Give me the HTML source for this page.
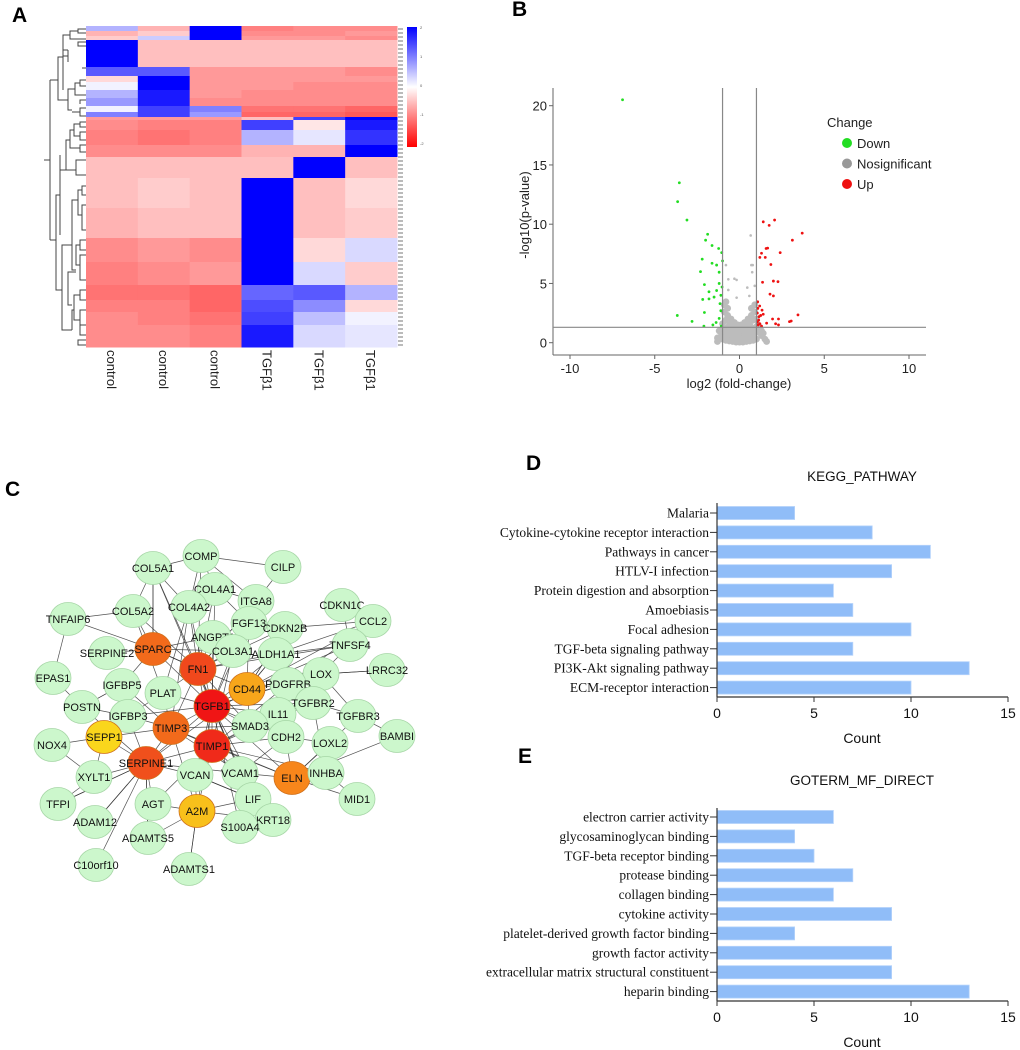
<!DOCTYPE html>
<html><head><meta charset="utf-8">
<style>
body{margin:0;background:#fff;}
svg{display:block;font-family:"Liberation Sans",Arial,sans-serif;}
.lab{font-weight:bold;font-size:21px;}
.ser{font-family:"Liberation Serif",serif;font-size:13.5px;}
</style></head>
<body>
<svg id="fig" width="1020" height="1050" viewBox="0 0 1020 1050">
<text class="lab" x="12" y="22">A</text>
<text class="lab" x="512" y="16">B</text>
<text class="lab" x="5" y="496">C</text>
<text class="lab" x="526" y="470">D</text>
<text class="lab" x="518" y="763">E</text>
<g id="heat"></g>
<g id="dendro" fill="none" stroke="#444" stroke-width="1"></g>
<g id="volc"></g>
<g id="net"></g>
<g id="kegg"></g>
<g id="go"></g>
</svg>
<script>
// ---------- Heatmap data ----------
const hmColumns = ["control","control","control","TGFβ1","TGFβ1","TGFβ1"];
const hmBlockSizes = [5,5,4,27,9,6,8,8,8,6,5,3,10,15,12,21,30,30,24,23,15,12,13,22];
const hmC1 = [0.6,-0.6,-0.4,2,1.3,-0.3,0.1,0.6,0.8,0.1,1,-0.8,-0.9,-1,-0.9,-0.5,-0.5,-0.6,-0.9,-1,-1.1,-1,-0.9,-0.9];
const hmC2 = [-0.6,-0.4,0.4,-0.5,1.3,2,2,1.8,1.8,1.5,1.5,-0.8,-1,-1.1,-0.9,-0.5,-0.4,-0.5,-0.8,-0.9,-1.1,-1,-1,-0.9];
const hmC3 = [2,2,2,-0.5,-0.8,-0.8,-0.8,-0.8,-0.9,1,0.8,-0.8,-1,-1,-0.9,-0.5,-0.5,-0.5,-0.9,-0.8,-1.2,-1.2,-1.1,-1];
const hmC4 = [-1,-0.9,-0.8,-0.5,-0.8,-0.8,-0.8,-0.9,-0.9,-1.1,-1.2,-0.5,1.5,0.6,-0.6,-0.5,2,2,2,2,1.2,1.4,1.5,1.8];
const hmC5 = [-0.9,-0.9,-0.8,-0.5,-0.8,-0.8,-0.9,-0.9,-0.9,-1.1,-1.2,1.5,-0.2,0.2,-0.6,2,-0.5,-0.5,-0.3,0.3,1.3,0.9,0.5,0.3];
const hmC6 = [-0.9,-0.8,-0.9,-0.5,-0.9,-0.8,-0.9,-0.9,-0.9,-1.2,-1.3,2,1.8,1.6,2,-0.5,-0.3,-0.4,0.3,-0.4,0.6,-0.3,0.1,0.2];
const hmCbTicks = ["2","1","0","-1","-2"];

// ---------- Volcano data ----------
const downX=[-6.9,-3.55,-3.65,-3.1,-1.88,-2.0,-1.62,-1.23,-1.05,-2.2,-1.62,-1.35,-1.0,-2.3,-1.2,-2.07,-1.2,-1.03,-1.8,-1.35,-1.1,-1.5,-2.17,-1.8,-1.15,-2.07,-3.67,-2.8,-2.1,-1.57,-1.38,-1.2,-1.07,-1.1];
const downY=[20.5,13.5,11.9,10.35,9.15,8.65,8.2,7.95,7.6,7.05,6.7,6.55,6.9,6.0,5.95,4.9,5.0,4.7,4.3,4.4,4.0,3.85,3.65,3.7,3.3,2.55,2.3,1.8,1.4,1.5,1.7,2.05,1.4,2.7];
const upX=[1.4,2.07,1.75,3.7,3.12,1.57,1.66,2.4,1.3,1.2,1.52,1.85,1.36,2.0,2.27,1.8,2.0,1.07,1.19,1.33,3.45,1.25,1.13,1.1,1.6,1.95,2.3,2.95,3.05,2.13,2.3,1.4,1.05,1.05,1.15,1.2,1.3,1.08];
const upY=[10.2,10.35,9.9,9.25,8.65,7.95,7.98,7.6,7.55,7.2,7.2,6.6,5.1,5.2,5.15,4.1,3.95,3.45,3.1,2.75,2.35,2.3,1.9,1.5,1.65,2.0,2.0,1.78,1.83,1.6,1.5,2.4,2.5,1.75,2.2,1.6,1.4,2.9];
const nsX=[0.66,0.78,0.7,-0.8,-0.66,-0.3,-0.17,0.75,0.9,0.46,-0.17,0.58,-0.66,-0.8,-0.9,-0.7,-0.5,-0.3,-0.1,0.1,0.3,0.5,0.7,0.9,-1.2,-1.0,-0.8,-0.6,-0.4,-0.2,0,0.2,0.4,0.6,0.8,1.0,1.2,1.4,-1.3,-1.1,-0.9,-0.7,-0.5,-0.3,-0.1,0.1,0.3,0.5,0.7,0.9,1.1,1.3,1.5,-1.0,-0.8,-0.6,-0.4,-0.2,0,0.2,0.4,0.6,0.8,1.0,-0.9,-0.7,0.7,0.9,-0.95,0.95,-0.85,0.85,0.6,-0.6,1.1,1.3,-1.1,-1.3,1.6,-0.2,0.2,0,-0.4,0.4];
const nsY=[9.05,6.55,6.55,6.55,5.35,5.4,5.3,5.95,4.8,4.65,3.8,3.95,4.45,3.45,2.6,2.3,2.0,1.7,1.5,1.5,1.7,2.0,2.3,2.6,1.0,1.6,1.9,1.5,1.2,1.0,0.9,1.0,1.2,1.5,1.9,2.0,1.3,0.8,0.4,0.9,1.1,1.0,0.8,0.6,0.5,0.5,0.6,0.8,1.0,1.1,0.9,0.6,0.3,0.3,0.2,0.15,0.1,0.05,0.05,0.05,0.1,0.15,0.2,0.3,3.2,2.9,2.9,3.2,1.3,1.3,0.6,0.6,0.4,0.4,1.5,1.0,0.5,0.1,0.1,0.3,0.3,1.2,0.35,0.35];
const vXTicks=[-10,-5,0,5,10];
const vYTicks=[0,5,10,15,20];
const vLegend=["Down","Nosignificant","Up"];

// ---------- Bar chart data ----------
const keggCats=["Malaria","Cytokine-cytokine receptor interaction","Pathways in cancer","HTLV-I infection","Protein digestion and absorption","Amoebiasis","Focal adhesion","TGF-beta signaling pathway","PI3K-Akt signaling pathway","ECM-receptor interaction"];
const keggVals=[4,8,11,9,6,7,10,7,13,10];
const goCats=["electron carrier activity","glycosaminoglycan binding","TGF-beta receptor binding","protease binding","collagen binding","cytokine activity","platelet-derived growth factor binding","growth factor activity","extracellular matrix structural constituent","heparin binding"];
const goVals=[6,4,5,7,6,9,4,9,9,13];
const countTicks=[0,5,10,15];

// ---------- Network data ----------
const nodeNames=["COMP","CILP","COL5A1","COL4A1","ITGA8","COL5A2","COL4A2","CDKN1C","CCL2","TNFAIP6","FGF13","CDKN2B","ANGPT1","SPARC","SERPINE2","COL3A1","ALDH1A1","TNFSF4","FN1","LOX","LRRC32","EPAS1","IGFBP5","PLAT","CD44","PDGFRB","TGFB1","POSTN","TGFBR2","IL11","TGFBR3","IGFBP3","TIMP3","SMAD3","BAMBI","SEPP1","CDH2","NOX4","TIMP1","LOXL2","SERPINE1","VCAN","VCAM1","ELN","INHBA","XYLT1","TFPI","AGT","A2M","LIF","MID1","ADAM12","KRT18","S100A4","ADAMTS5","C10orf10","ADAMTS1"];
const nodeX=[201,283,153,215,256,133,189,342,373,68,249,285,213,153,107,233,276,350,198,321,387,53,122,163,247,288,212,82,313,278,358,128,171,250,397,104,286,52,212,330,146,195,240,292,326,94,58,153,197,253,357,95,273,240,148,96,189];
const nodeY=[556,567,568,589,601,611,607,605,621,619,623,628,637,649,653,651,654,645,669,674,670,678,685,693,689,684,706,707,703,714,716,716,728,726,736,737,737,745,746,743,763,775,773,778,773,777,804,804,811,799,799,822,820,827,838,865,869];
const nodeDegree=[3,3,3,3,3,3,3,3,3,3,3,3,3,8,3,3,3,3,9,3,3,3,3,3,7,3,10,3,3,3,3,3,8,3,3,5,3,3,9.5,3,8.5,3,3,7.5,3,3,3,3,6,3,3,3,3,3,3,3,3];
const edgeFrom=["TGFB1","TGFB1","TGFB1","TGFB1","TGFB1","TGFB1","TGFB1","TGFB1","TGFB1","TGFB1","TGFB1","TGFB1","TGFB1","TGFB1","TGFB1","TGFB1","TGFB1","TGFB1","TGFB1","TGFB1","TIMP1","TIMP1","TIMP1","TIMP1","TIMP1","TIMP1","TIMP1","TIMP1","TIMP1","TIMP1","TIMP1","FN1","FN1","FN1","FN1","FN1","FN1","FN1","FN1","FN1","FN1","FN1","SERPINE1","SERPINE1","SERPINE1","SERPINE1","SERPINE1","SERPINE1","SERPINE1","SERPINE1","SERPINE1","TIMP3","TIMP3","TIMP3","TIMP3","TIMP3","TIMP3","SPARC","SPARC","SPARC","SPARC","SPARC","SPARC","CD44","CD44","CD44","CD44","CD44","ELN","ELN","ELN","ELN","ELN","A2M","A2M","A2M","A2M","SEPP1","SEPP1","SEPP1","COMP","COMP","COL5A1","COL5A1","COL4A1","CILP","CDKN1C","CCL2","CCL2","TNFSF4","LRRC32","TGFBR3","TGFBR3","EPAS1","EPAS1","TNFAIP6","POSTN","NOX4","TFPI","TFPI","ADAM12","C10orf10","ADAMTS1","ADAMTS5","MID1","KRT18","LIF","INHBA","LOXL2","LOX","ALDH1A1","CDKN2B","ITGA8","COL4A2","PDGFRB","TGFBR2",
"TGFB1","TGFB1","TGFB1","TGFB1","TGFB1","TGFB1","TGFB1","TGFB1","TIMP1","TIMP1","TIMP1","TIMP1","TIMP1","FN1","FN1","FN1","FN1","FN1","FN1","SERPINE1","SERPINE1","SERPINE1","TIMP3","TIMP3","TIMP3","CD44","CD44","CD44","ELN","ELN","SPARC","SPARC","A2M","A2M","COL5A1","COL5A1","COMP","COMP","COL4A1","CCL2","CCL2","CDKN1C","TNFSF4","LRRC32","LOX","VCAM1","VCAN","PLAT","PLAT","IGFBP3","IGFBP5"];
const edgeTo=["TIMP1","FN1","SERPINE1","TIMP3","SPARC","CD44","ELN","A2M","SMAD3","IL11","PLAT","VCAN","VCAM1","CDH2","TGFBR2","PDGFRB","COL3A1","ANGPT1","LOX","IGFBP3","SERPINE1","TIMP3","VCAN","ELN","A2M","CDH2","LIF","IL11","SMAD3","VCAM1","AGT","SPARC","COL3A1","ANGPT1","COL4A2","COL4A1","PLAT","CD44","TIMP3","COL5A2","ALDH1A1","TNFSF4","TIMP3","SEPP1","XYLT1","AGT","VCAN","ADAM12","POSTN","IGFBP3","ADAMTS5","IGFBP5","PLAT","SEPP1","A2M","ELN","IGFBP3","COL5A2","SERPINE2","COL3A1","COL5A1","TNFAIP6","IGFBP5","PDGFRB","LOX","TNFSF4","CCL2","SMAD3","INHBA","LOXL2","CDH2","VCAM1","MID1","ADAMTS1","VCAN","AGT","ADAMTS5","NOX4","XYLT1","IGFBP3","CILP","COL4A1","COMP","COL5A2","ITGA8","ITGA8","CCL2","TNFSF4","ALDH1A1","LOX","LOX","BAMBI","TGFBR2","TNFAIP6","POSTN","COL5A2","IGFBP5","XYLT1","XYLT1","SERPINE1","SERPINE1","SERPINE1","A2M","SERPINE1","INHBA","VCAM1","VCAN","TGFBR2","CDH2","TGFBR2","CD44","CD44","FN1","PLAT","TGFBR2","IL11",
"COL4A1","COL4A2","COL5A1","FGF13","ALDH1A1","LIF","KRT18","S100A4","PDGFRB","TGFBR2","COL3A1","FN1","INHBA","CDKN2B","ITGA8","COMP","COL5A1","SMAD3","VCAM1","VCAM1","CD44","TFPI","COL4A2","VCAM1","SMAD3","FGF13","CDKN2B","ALDH1A1","TGFBR3","BAMBI","ANGPT1","FN1","KRT18","LIF","COL4A2","SPARC","COL4A2","ITGA8","FGF13","CDKN2B","PDGFRB","TNFSF4","ALDH1A1","LOX","TGFBR3","CDH2","LIF","COL5A2","IGFBP3","POSTN","POSTN"];

function hmColor(v){
  const t=Math.min(1,Math.abs(v)/2);
  const c=Math.round(255*(1-t));
  return v>=0?`rgb(${c},${c},255)`:`rgb(255,${c},${c})`;
}
const NS="http://www.w3.org/2000/svg";
function mk(tag,attrs,parent){const e=document.createElementNS(NS,tag);for(const k in attrs)e.setAttribute(k,attrs[k]);parent.appendChild(e);return e;}

// ---- Heatmap ----
(function(){
  const g=document.getElementById('heat');
  const x0=86,x1=397,y0=26,y1=347;
  const total=hmBlockSizes.reduce((a,b)=>a+b,0);
  const cw=(x1-x0)/hmColumns.length;
  const cols=[hmC1,hmC2,hmC3,hmC4,hmC5,hmC6];
  let acc=0;
  hmBlockSizes.forEach((s,i)=>{
    const ya=y0+(acc/total)*(y1-y0), yb=y0+((acc+s)/total)*(y1-y0);
    cols.forEach((col,j)=>{
      const r=mk('rect',{x:x0+j*cw,y:ya,width:cw+0.5,height:yb-ya+0.5,fill:hmColor(col[i])},g);
      
      
    });
    acc+=s;
  });
  for(let y=y0+2;y<y1;y+=4){mk('rect',{x:398,y:y,width:5,height:2,fill:'#bbb'},g);}
  hmColumns.forEach((c,j)=>{
    const cx=x0+j*cw+cw/2;
    const t=mk('text',{x:0,y:0,transform:`translate(${cx-5},350) rotate(90)`,'font-size':'13',fill:'#222'},g);
    t.textContent=c;
    
    
  });
  const defs=mk('defs',{},g);
  const lg=mk('linearGradient',{id:'cb',x1:0,y1:0,x2:0,y2:1},defs);
  mk('stop',{offset:'0',['stop-color']:'#0000ff'},lg);
  mk('stop',{offset:'0.5',['stop-color']:'#ffffff'},lg);
  mk('stop',{offset:'1',['stop-color']:'#ff0000'},lg);
  const cb=mk('rect',{x:407,y:27,width:10,height:120,fill:'url(#cb)'},g);
  
  
  hmCbTicks.forEach((t,i)=>{const e=mk('text',{x:420,y:29+i*29,'font-size':'4',fill:'#555'},g);e.textContent=t;});
})();

// ---- Dendrogram (decorative) ----
(function(){
  const g=document.getElementById('dendro');
  const d="M86,29H78V33H86 M78,31H70V39H86 M70,35H63V50H68 M86,42H78V46H86 M86,46H78 M68,50V62 M82,68H86 M68,56H63 M63,42V90 M86,80H80V86H86 M80,83H75V95H86 M75,89H68V110H72 M86,108H80V116H86 M80,112H72 M86,100H80V104 M68,100H58V57H63 M58,80H50 M86,122H80V127H86 M80,124H74V136H80 M86,132H80V140H86 M86,145H80V152H86 M80,148H70V130H74 M70,140H66V170H76 M86,160H76V175H86 M66,170H60 M60,155V235 M86,186H82V195H86 M82,190H78V215H82 M86,205H82V230H86 M78,200H72V270H76 M86,240H80V250H86 M80,245H76V265H80 M86,255H80V280H86 M76,272H68V305H72 M86,290H80V300H86 M80,295H74V320H80 M86,310H80V335H86 M74,310H72V330 M86,325H80 M86,340H78V345H86 M72,330H62V245H72 M62,290H56V195H60 M56,240H50 M50,80V240 M50,160H44";
  mk('path',{d:d},g);
})();

// ---- Volcano ----
(function(){
  const g=document.getElementById('volc');
  const X=v=>739.5+v*16.95, Y=v=>342.7-v*11.85;
  mk('line',{x1:553,y1:88,x2:553,y2:355,stroke:'#666'},g);
  mk('line',{x1:553,y1:355,x2:926,y2:355,stroke:'#666'},g);
  vYTicks.forEach(t=>{mk('line',{x1:549,x2:553,y1:Y(t),y2:Y(t),stroke:'#666'},g);
    const e=mk('text',{x:547,y:Y(t)+5,'text-anchor':'end','font-size':'13',fill:'#222'},g);e.textContent=t;
    });
  vXTicks.forEach(t=>{mk('line',{x1:X(t),x2:X(t),y1:355,y2:359,stroke:'#666'},g);
    const e=mk('text',{x:X(t),y:373,'text-anchor':'middle','font-size':'13',fill:'#222'},g);e.textContent=t;
    });
  const yl=mk('text',{transform:'translate(529,215) rotate(-90)','text-anchor':'middle','font-size':'13',fill:'#222'},g);yl.textContent='-log10(p-value)';
  
  const xl=mk('text',{x:739,y:388,'text-anchor':'middle','font-size':'13',fill:'#222'},g);xl.textContent='log2 (fold-change)';
  
  nsX.forEach((x,i)=>{const c=mk('circle',{cx:X(x),cy:Y(nsY[i]),r:nsY[i]<3.5?3.4:1.3,fill:'#bcbcbc'},g);
    });
  downX.forEach((x,i)=>{const c=mk('circle',{cx:X(x),cy:Y(downY[i]),r:1.4,fill:'#22dd22'},g);
    });
  upX.forEach((x,i)=>{const c=mk('circle',{cx:X(x),cy:Y(upY[i]),r:1.4,fill:'#ee1111'},g);
    });
  mk('line',{x1:X(-1),x2:X(-1),y1:88,y2:355,stroke:'#888','stroke-width':1.2},g);
  mk('line',{x1:X(1),x2:X(1),y1:88,y2:355,stroke:'#888','stroke-width':1.2},g);
  mk('line',{x1:553,x2:926,y1:Y(1.3),y2:Y(1.3),stroke:'#888','stroke-width':1.2},g);
  const lt=mk('text',{x:827,y:127,'font-size':'13',fill:'#222'},g);lt.textContent='Change';
  
  const lc=['#22dd22','#999','#ee1111'];
  vLegend.forEach((n,i)=>{const yy=143+i*20.5;
    mk('circle',{cx:847,cy:yy,r:5,fill:lc[i]},g);
    const e=mk('text',{x:857,y:yy+5,'font-size':'13',fill:'#222'},g);e.textContent=n;
    });
})();

// ---- Network ----
(function(){
  const g=document.getElementById('net');
  const idx={};nodeNames.forEach((n,i)=>idx[n]=i);
  const eg=mk('g',{stroke:'#333','stroke-width':0.7,'stroke-opacity':0.85},g);
  edgeFrom.forEach((a,i)=>{const p=idx[a],q=idx[edgeTo[i]];
    const l=mk('line',{x1:nodeX[p],y1:nodeY[p],x2:nodeX[q],y2:nodeY[q]},eg);
    });
  const hubCol=d=>d>=10?'#f01515':d>=9.5?'#f02a1a':d>=9?'#f0481c':d>=8.5?'#f0501c':d>=8?'#f26a1b':d>=7.5?'#f7861b':d>=7?'#f8a61b':d>=6?'#f8c01b':d>=5?'#fad61c':'#ccf7cc';
  nodeNames.forEach((n,i)=>{
    const e=mk('ellipse',{cx:nodeX[i],cy:nodeY[i],rx:18,ry:16.5,fill:hubCol(nodeDegree[i]),stroke:nodeDegree[i]>3?'#d0701a':'#a6d6a6','stroke-width':0.8},g);
    
    
    const t=mk('text',{x:nodeX[i],y:nodeY[i]+4,'text-anchor':'middle','font-size':'11',fill:'#111'},g);
    t.textContent=n;
    
    
  });
})();

// ---- Bar charts ----
function barChart(gid,cats,vals,title,titleY,axisTop,firstY,axisY){
  const g=document.getElementById(gid);
  const X=v=>717+v*19.4;
  const step=19.4;
  const tt=mk('text',{x:862,y:titleY,'text-anchor':'middle','font-size':'13.5',fill:'#111'},g);tt.textContent=title;
  
  cats.forEach((c,i)=>{const cy=firstY+i*step;
    const r=mk('rect',{x:X(0),y:cy-6.5,width:X(vals[i])-X(0),height:13,fill:'#90bdf8',stroke:'#b5d3fb','stroke-width':0.8},g);
    
    mk('line',{x1:710,x2:717,y1:cy,y2:cy,stroke:'#333'},g);
    const t=mk('text',{x:709,y:cy+4.5,'text-anchor':'end',class:'ser',fill:'#111'},g);t.textContent=c;
    
  });
  mk('line',{x1:717,x2:717,y1:axisTop,y2:axisY,stroke:'#333','stroke-width':1.2},g);
  mk('line',{x1:717,x2:1008,y1:axisY,y2:axisY,stroke:'#333','stroke-width':1.2},g);
  countTicks.forEach(t=>{mk('line',{x1:X(t),x2:X(t),y1:axisY,y2:axisY+5,stroke:'#333'},g);
    const e=mk('text',{x:X(t),y:axisY+21,'text-anchor':'middle','font-size':'14',fill:'#111'},g);e.textContent=t;
    });
  const xl=mk('text',{x:862,y:axisY+46,'text-anchor':'middle','font-size':'14',fill:'#111'},g);xl.textContent='Count';
  
}
barChart('kegg',keggCats,keggVals,'KEGG_PATHWAY',481,503,513,697);
barChart('go',goCats,goVals,'GOTERM_MF_DIRECT',785,808,817,1001);
</script>
</body></html>
